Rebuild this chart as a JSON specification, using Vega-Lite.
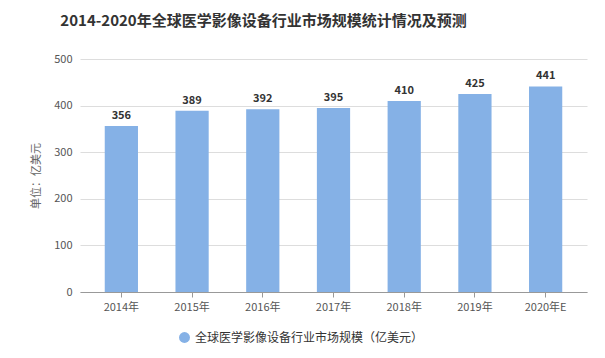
{
  "$schema": "https://vega.github.io/schema/vega-lite/v6.json",
  "width": 605,
  "height": 358,
  "autosize": {"type": "fit", "contains": "padding"},
  "padding": {"left": 30, "right": 18, "top": 14, "bottom": 46},
  "background": "white",
  "title": {
    "text": "2014-2020年全球医学影像设备行业市场规模统计情况及预测",
    "fontSize": 15,
    "fontWeight": "bold",
    "color": "#333333",
    "font": "Noto Sans CJK SC",
    "offset": 24,
    "anchor": "middle",
    "frame": "group",
    "dx": -70
  },
  "config": {
    "view": {"stroke": null},
    "font": "Noto Sans CJK SC"
  },
  "data": {
    "values": [
      {"year": "2014年", "value": 356, "series": "全球医学影像设备行业市场规模（亿美元）"},
      {"year": "2015年", "value": 389, "series": "全球医学影像设备行业市场规模（亿美元）"},
      {"year": "2016年", "value": 392, "series": "全球医学影像设备行业市场规模（亿美元）"},
      {"year": "2017年", "value": 395, "series": "全球医学影像设备行业市场规模（亿美元）"},
      {"year": "2018年", "value": 410, "series": "全球医学影像设备行业市场规模（亿美元）"},
      {"year": "2019年", "value": 425, "series": "全球医学影像设备行业市场规模（亿美元）"},
      {"year": "2020年E", "value": 441, "series": "全球医学影像设备行业市场规模（亿美元）"}
    ]
  },
  "encoding": {
    "x": {
      "field": "year",
      "type": "nominal",
      "sort": null,
      "scale": {"paddingInner": 0.53, "paddingOuter": 0.35},
      "axis": {
        "title": null,
        "labelAngle": 0,
        "labelColor": "#555555",
        "labelFontSize": 11,
        "labelPadding": 4,
        "domainColor": "#999999",
        "tickColor": "#999999",
        "tickSize": 5
      }
    },
    "y": {
      "field": "value",
      "type": "quantitative",
      "scale": {"domain": [0, 500]},
      "axis": {
        "title": "单位：亿美元",
        "titleColor": "#666666",
        "titleFontSize": 11,
        "titleFontWeight": "normal",
        "titlePadding": 12,
        "values": [0, 100, 200, 300, 400, 500],
        "labelColor": "#555555",
        "labelFontSize": 11,
        "labelPadding": 8,
        "domain": false,
        "ticks": false,
        "gridColor": "#dddddd"
      }
    }
  },
  "layer": [
    {
      "mark": {"type": "bar", "color": "#85b1e6"},
      "encoding": {
        "color": {
          "field": "series",
          "type": "nominal",
          "scale": {"range": ["#85b1e6"]},
          "legend": {
            "title": null,
            "orient": "none",
            "legendX": 98,
            "legendY": 272,
            "symbolType": "circle",
            "symbolSize": 120,
            "labelFontSize": 12,
            "labelColor": "#333333",
            "labelLimit": 400
          }
        }
      }
    },
    {
      "mark": {"type": "text", "dy": -10, "fontWeight": "bold", "fontSize": 11, "color": "#333333"},
      "encoding": {"text": {"field": "value", "type": "quantitative"}}
    }
  ]
}
